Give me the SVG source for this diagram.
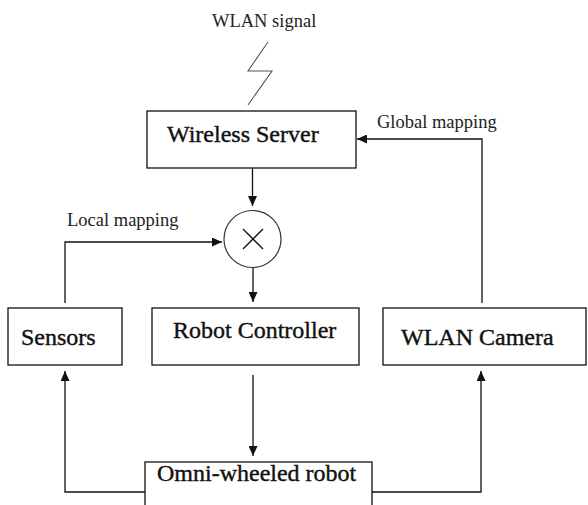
<svg xmlns="http://www.w3.org/2000/svg" width="588" height="505" viewBox="0 0 588 505">
<style>
.box{fill:#fff;stroke:#111;stroke-width:1.3}
.lbl{font-family:"Liberation Serif","Times New Roman",serif;font-size:24px;fill:#111;stroke:#111;stroke-width:0.4}
.sm{font-family:"Liberation Serif","Times New Roman",serif;font-size:18.5px;fill:#222}
.conn{fill:none;stroke:#111;stroke-width:1.3}
</style>
<defs>
<marker id="ah" markerUnits="userSpaceOnUse" markerWidth="10" markerHeight="9" refX="10" refY="4.5" orient="auto">
<path d="M0,0 L10,4.5 L0,9 z" fill="#111"/>
</marker>
</defs>
<rect width="588" height="505" fill="#fff"/>
<g id="wlan-signal">
<text class="sm" x="212" y="27">WLAN signal</text>
<polyline points="268,42 248,71 272,71 248,105" fill="none" stroke="#555" stroke-width="1.1"/>
</g>
<g id="wireless-server">
<rect class="box" x="147" y="111" width="209" height="57"/>
<text class="lbl" x="167" y="142">Wireless Server</text>
</g>
<g id="multiplier">
<circle cx="252.5" cy="239" r="28.5" fill="#fff" stroke="#333" stroke-width="1.2"/>
<line x1="243" y1="229" x2="263" y2="249" stroke="#111" stroke-width="1.3"/>
<line x1="263" y1="229" x2="243" y2="249" stroke="#111" stroke-width="1.3"/>
</g>
<g id="sensors">
<rect class="box" x="8" y="308" width="114" height="57"/>
<text class="lbl" x="21" y="345">Sensors</text>
</g>
<g id="robot-controller">
<rect class="box" x="152" y="308" width="207" height="57"/>
<text class="lbl" x="173" y="338">Robot Controller</text>
</g>
<g id="wlan-camera">
<rect class="box" x="383" y="308" width="203" height="57"/>
<text class="lbl" x="401" y="345">WLAN Camera</text>
</g>
<g id="omni-robot">
<rect class="box" x="145" y="462" width="227" height="50"/>
<text class="lbl" x="157" y="481">Omni-wheeled robot</text>
</g>
<g id="connectors">
<path class="conn" d="M252.5,168 V206" marker-end="url(#ah)"/>
<path class="conn" d="M253,268 V302" marker-end="url(#ah)"/>
<path class="conn" d="M65,303 V242 H222" marker-end="url(#ah)"/>
<text class="sm" x="67" y="226">Local mapping</text>
<path class="conn" d="M482,303 V139 H357" marker-end="url(#ah)"/>
<text class="sm" x="377" y="128">Global mapping</text>
<path class="conn" d="M253,375 V456" marker-end="url(#ah)"/>
<path class="conn" d="M145,492 H65 V371" marker-end="url(#ah)"/>
<path class="conn" d="M372,492 H481 V371" marker-end="url(#ah)"/>
</g>
</svg>
